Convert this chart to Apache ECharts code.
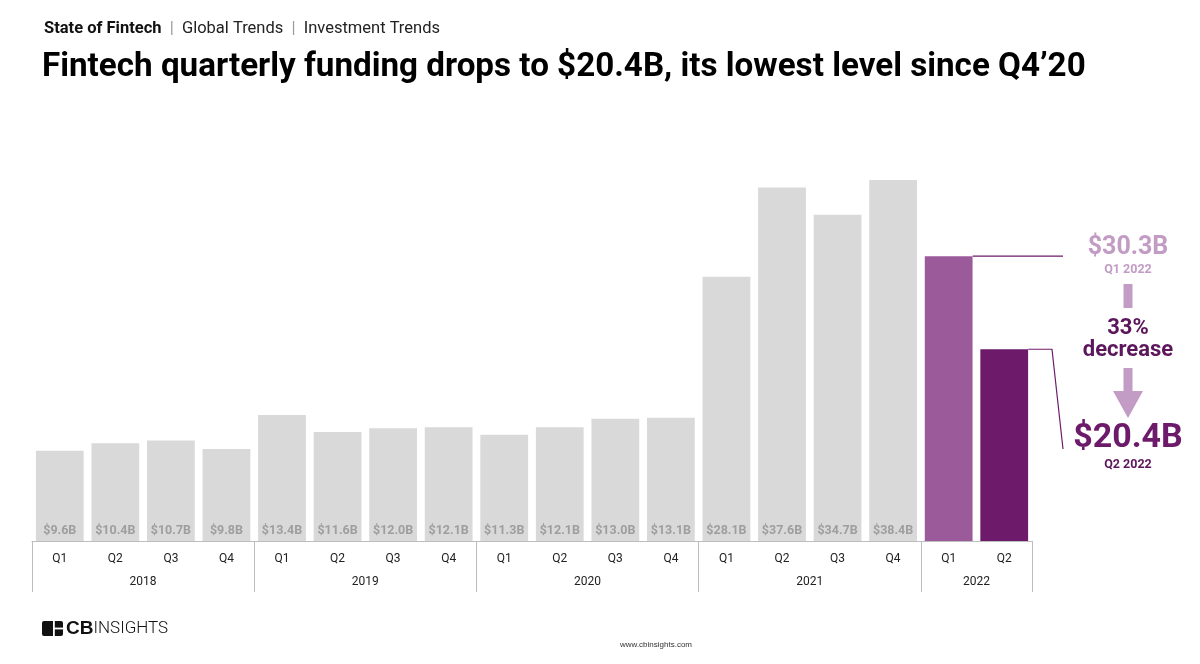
<!DOCTYPE html>
<html>
<head>
<meta charset="utf-8">
<script src="https://cdn.jsdelivr.net/npm/echarts@6/dist/echarts.min.js"></script>
<style>
html,body{margin:0;padding:0;background:#fff;}
#c{width:1200px;height:664px;}
</style>
</head>
<body>
<div id="c"></div>
<script>
const quarters = ['Q1','Q2','Q3','Q4','Q1','Q2','Q3','Q4','Q1','Q2','Q3','Q4','Q1','Q2','Q3','Q4','Q1','Q2'];
const funding = [9.6,10.4,10.7,9.8,13.4,11.6,12.0,12.1,11.3,12.1,13.0,13.1,28.1,37.6,34.7,38.4,30.3,20.4];
const years = ['2018','2019','2020','2021','2022'];
const yearBoundaries = [0,4,8,12,16,18];
const yearCenters = [2,6,10,14,17];
const barLabels = ['$9.6B','$10.4B','$10.7B','$9.8B','$13.4B','$11.6B','$12.0B','$12.1B','$11.3B','$12.1B','$13.0B','$13.1B','$28.1B','$37.6B','$34.7B','$38.4B','',''];

const GRAY = '#d9d9d9', P1 = '#9b5b9b', P2 = '#6d1a6b', LP = '#c39cc5', DP = '#5c165c';
const FONT = 'Roboto';

const chart = echarts.init(document.getElementById('c'));
const option = {
  animation: false,
  textStyle: {fontFamily: FONT},
  title: [{
    left: 39, top: 15,
    text: '{b|State of Fintech}{s|  |  }{n|Global Trends}{s|  |  }{n|Investment Trends}',
    textStyle: {
      fontWeight: 'normal',
      rich: {
        b: {fontFamily: FONT, fontSize: 16.5, fontWeight: 'bold', color: '#111'},
        n: {fontFamily: FONT, fontSize: 16.5, fontWeight: 'normal', color: '#222'},
        s: {fontFamily: FONT, fontSize: 16.5, fontWeight: 'normal', color: '#999'}
      }
    }
  }, {
    left: 37, top: 46,
    text: 'Fintech quarterly funding drops to $20.4B, its lowest level since Q4\u201920',
    textStyle: {fontFamily: FONT, fontSize: 33.2, fontWeight: 'bold', color: '#000'}
  }],
  grid: {left: 32, top: 165, width: 1000, height: 376},
  xAxis: [{
    type: 'category', data: quarters,
    axisLine: {lineStyle: {color: '#bdbdbd'}},
    axisTick: {show: false},
    axisLabel: {color: '#222', fontSize: 12, margin: 12, fontFamily: FONT}
  }, {
    type: 'value', min: 0, max: 18, position: 'bottom',
    axisLine: {show: false},
    splitLine: {show: false},
    axisTick: {show: true, customValues: yearBoundaries, length: 51, lineStyle: {color: '#bdbdbd'}},
    axisLabel: {customValues: yearCenters, margin: 35, color: '#222', fontSize: 12, fontFamily: FONT,
      formatter: v => years[yearCenters.indexOf(v)] || ''}
  }],
  yAxis: {type: 'value', min: 0, max: 40, show: false, splitLine: {show: false}},
  series: [{
    type: 'bar', data: funding, xAxisIndex: 0,
    barCategoryGap: '14%',
    itemStyle: {color: p => p.dataIndex === 16 ? P1 : (p.dataIndex === 17 ? P2 : GRAY)},
    label: {
      show: true, position: 'insideBottom', distance: 4,
      formatter: p => barLabels[p.dataIndex],
      color: '#9e9e9e', fontSize: 12.5, fontWeight: 'bold', fontFamily: FONT
    }
  }]
};
chart.setOption(option);

// annotation lines anchored to the data through the chart's own scales
const q1Top = chart.convertToPixel({xAxisIndex: 0, yAxisIndex: 0}, [16, funding[16]]);
const q2Top = chart.convertToPixel({xAxisIndex: 0, yAxisIndex: 0}, [17, funding[17]]);
const halfBar = 24;
const lineY1 = q1Top[1], lineY2 = q2Top[1];
const cx = 1128;
chart.setOption({
  graphic: [
    {type: 'line', shape: {x1: q1Top[0] + halfBar, y1: lineY1, x2: 1063, y2: lineY1}, style: {stroke: P2, lineWidth: 1.2}},
    {type: 'polyline', shape: {points: [[q2Top[0] + halfBar, lineY2], [1052, lineY2], [1063, 449]]}, style: {stroke: P2, lineWidth: 1.2, fill: null}},
    {type: 'text', x: cx, y: 248, style: {text: '$30.3B', fill: LP, font: 'bold 25px Roboto', align: 'center', verticalAlign: 'middle'}},
    {type: 'text', x: cx, y: 270, style: {text: 'Q1 2022', fill: LP, font: 'bold 12.5px Roboto', align: 'center', verticalAlign: 'middle'}},
    {type: 'rect', shape: {x: cx - 4.5, y: 284, width: 9, height: 24}, style: {fill: LP}},
    {type: 'text', x: cx, y: 328, style: {text: '33%', fill: DP, font: 'bold 22px Roboto', align: 'center', verticalAlign: 'middle'}},
    {type: 'text', x: cx, y: 350, style: {text: 'decrease', fill: DP, font: 'bold 22px Roboto', align: 'center', verticalAlign: 'middle'}},
    {type: 'polygon', shape: {points: [[cx - 4.5, 368], [cx + 4.5, 368], [cx + 4.5, 391], [cx + 15, 391], [cx, 418], [cx - 15, 391], [cx - 4.5, 391]]}, style: {fill: LP}},
    {type: 'text', x: cx, y: 438, style: {text: '$20.4B', fill: P2, font: 'bold 34px Roboto', align: 'center', verticalAlign: 'middle'}},
    {type: 'text', x: cx, y: 465, style: {text: 'Q2 2022', fill: DP, font: 'bold 12.5px Roboto', align: 'center', verticalAlign: 'middle'}},
    // footer logo
    {type: 'rect', shape: {x: 42, y: 621, width: 21, height: 15, r: 2}, style: {fill: '#111'}},
    {type: 'rect', shape: {x: 53, y: 621, width: 1.8, height: 15}, style: {fill: '#fff'}},
    {type: 'rect', shape: {x: 53, y: 627.6, width: 10, height: 1.8}, style: {fill: '#fff'}},
    {type: 'text', x: 66, y: 629, style: {text: '{a|CB}{b|INSIGHTS}', verticalAlign: 'middle',
      rich: {a: {font: 'bold 19px "Liberation Sans"', fill: '#111'}, b: {font: '300 17px Roboto', fill: '#111'}}}},
    {type: 'text', x: 656, y: 645, style: {text: 'www.cbinsights.com', fill: '#333', font: '8px "Liberation Sans"', align: 'center', verticalAlign: 'middle'}}
  ]
});
</script>
</body>
</html>
